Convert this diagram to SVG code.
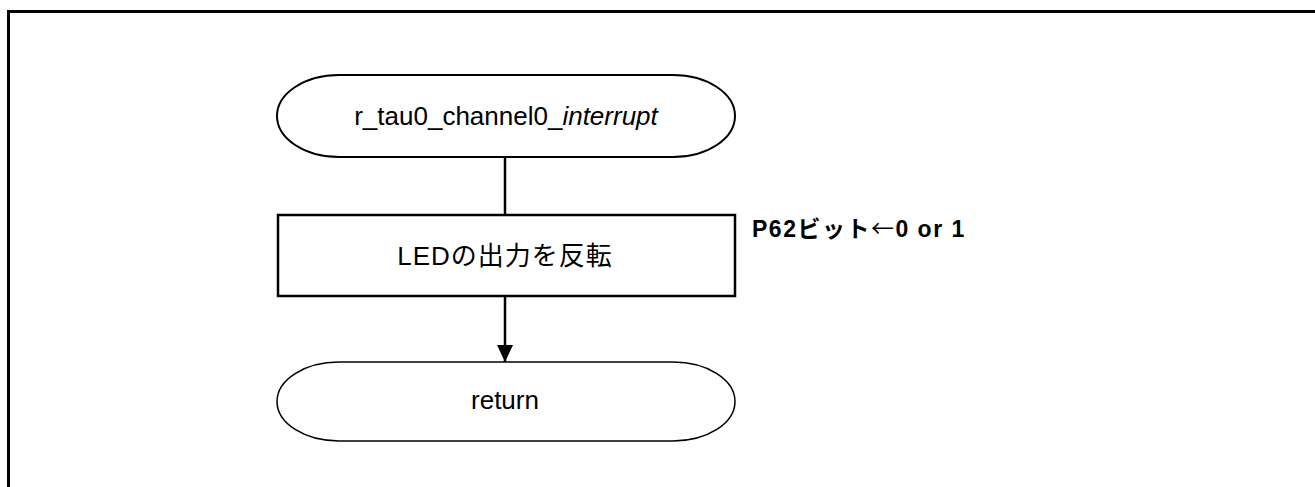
<svg xmlns="http://www.w3.org/2000/svg" width="1315" height="487" viewBox="0 0 1315 487">
<style>
.t{font-family:"Liberation Sans",Arial,"Noto Sans CJK JP",sans-serif;font-size:26px;fill:#000;text-anchor:middle}
.n{fill:#fff;stroke:#000}
.c{stroke:#000;stroke-width:2.5;fill:none}
</style>
<defs>
<marker id="ah" markerWidth="17" markerHeight="16" refX="17" refY="8" orient="auto" markerUnits="userSpaceOnUse">
<path d="M0,0 L17,8 L0,16 Z" fill="#000"/>
</marker>
</defs>
<rect width="1315" height="487" fill="#fff"/>
<path d="M8.5,487 V11.5 H1315" fill="none" stroke="#000" stroke-width="3"/>
<g id="connectors">
<line class="c" x1="505" y1="157" x2="505" y2="215"/>
<line class="c" x1="505" y1="296" x2="505" y2="362" marker-end="url(#ah)"/>
<line x1="734" y1="215" x2="734" y2="236" stroke="#000" stroke-width="3"/>
</g>
<g id="start">
<rect class="n" x="277" y="75" width="458" height="82" rx="62" ry="41" stroke-width="2"/>
<text class="t" x="506" y="125">r_tau0_channel0_<tspan font-style="italic">interrupt</tspan></text>
</g>
<g id="process">
<rect class="n" x="278" y="215" width="457" height="81" stroke-width="2.5"/>
<text class="t" x="505" y="265" letter-spacing="1">LEDの出力を反転</text>
</g>
<g id="note">
<text x="752" y="237" font-family="'Liberation Sans',Arial,'Noto Sans CJK JP',sans-serif" font-size="23" font-weight="bold" letter-spacing="1.5">P62ビット<tspan font-family="'Noto Sans CJK JP',sans-serif" font-weight="normal">←</tspan>0 or 1</text>
</g>
<g id="end">
<rect class="n" x="277" y="362" width="458" height="79" rx="62" ry="39.5" stroke-width="1.5"/>
<text class="t" x="505" y="409">return</text>
</g>
</svg>
